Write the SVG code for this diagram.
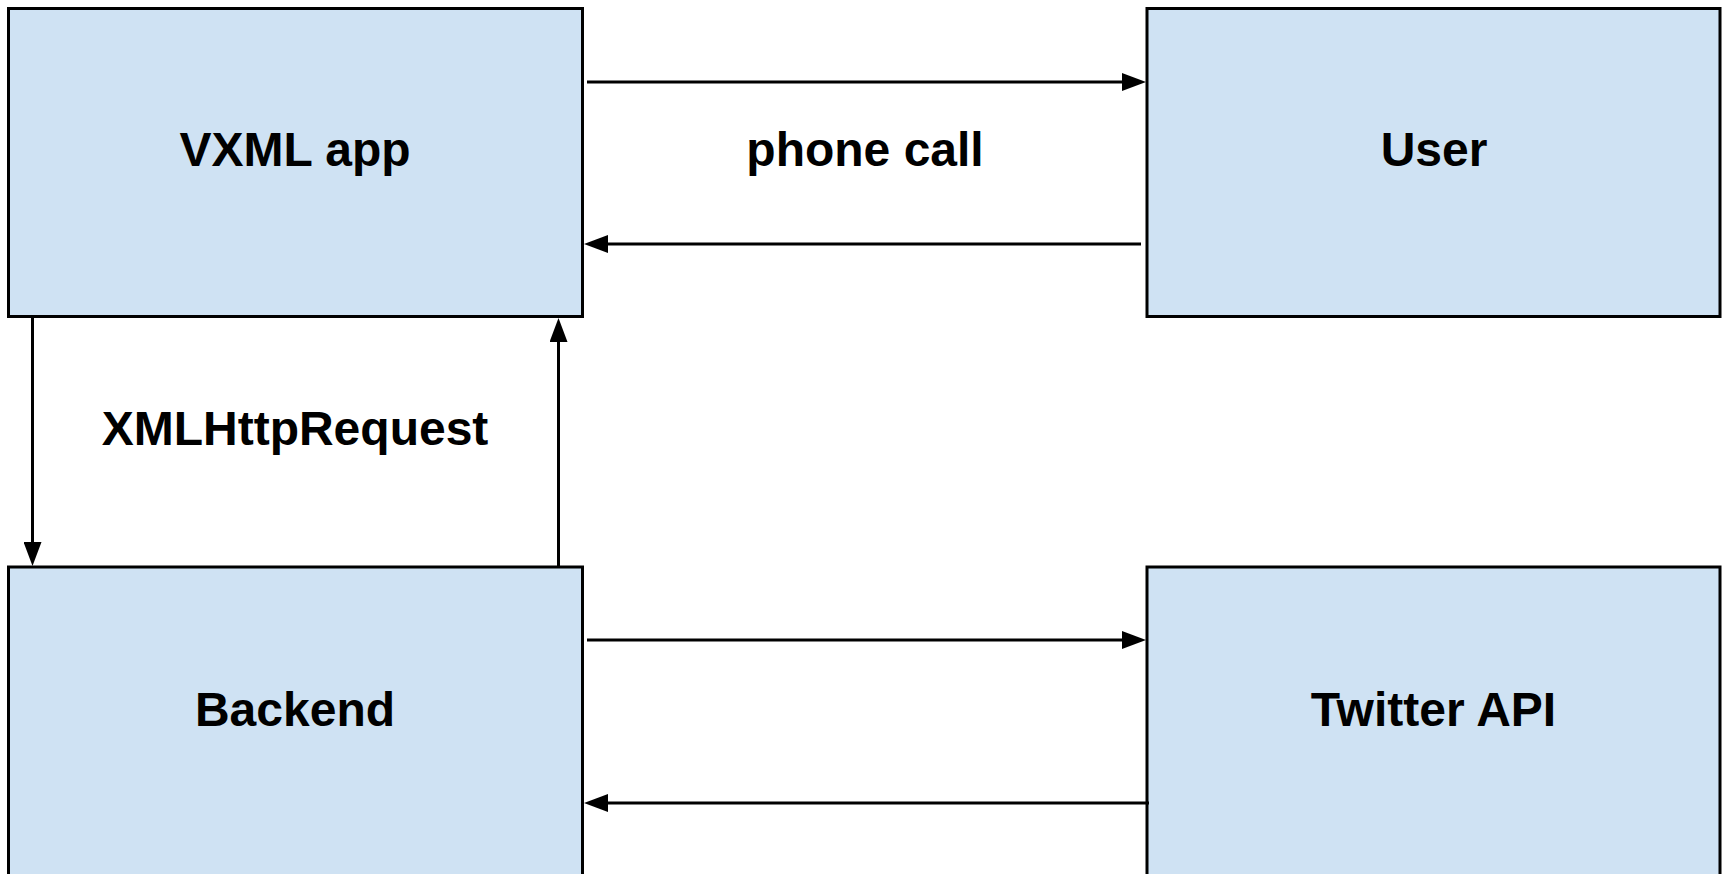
<svg xmlns="http://www.w3.org/2000/svg" width="1729" height="874" viewBox="0 0 1729 874">
  <style>
    .box { fill: #cfe2f3; stroke: #000000; stroke-width: 3; }
    .lbl { font-family: "Liberation Sans", Arial, sans-serif; font-weight: bold; font-size: 48px; fill: #000000; text-anchor: middle; }
    .conn { stroke: #000000; stroke-width: 3; fill: none; marker-end: url(#arrow); }
  </style>
  <defs>
    <marker id="arrow" viewBox="0 0 24 18" markerWidth="24" markerHeight="18" refX="18" refY="9" orient="auto" markerUnits="userSpaceOnUse">
      <path d="M0,0 L24,9 L0,18 z" fill="#000000"/>
    </marker>
  </defs>
  <rect width="1729" height="874" fill="#ffffff"/>
  <g id="vxml-app">
    <rect class="box" x="8.5" y="8.5" width="574" height="308"/>
    <text class="lbl" x="295" y="166">VXML app</text>
  </g>
  <g id="user">
    <rect class="box" x="1147" y="8.5" width="573" height="308"/>
    <text class="lbl" x="1434" y="166">User</text>
  </g>
  <g id="backend">
    <rect class="box" x="8.5" y="567" width="574" height="400"/>
    <text class="lbl" x="295" y="726">Backend</text>
  </g>
  <g id="twitter-api">
    <rect class="box" x="1147" y="567" width="573" height="400"/>
    <text class="lbl" x="1433.5" y="726">Twitter API</text>
  </g>
  <g id="connectors">
    <line class="conn" x1="587" y1="82" x2="1140" y2="82"/>
    <line class="conn" x1="1141" y1="244" x2="590" y2="244"/>
    <line class="conn" x1="587" y1="640" x2="1140" y2="640"/>
    <line class="conn" x1="1149" y1="803" x2="590" y2="803"/>
    <line class="conn" x1="32.5" y1="317" x2="32.5" y2="560"/>
    <line class="conn" x1="558.5" y1="567" x2="558.5" y2="324"/>
    <text class="lbl" x="865" y="166">phone call</text>
    <text class="lbl" x="295" y="445">XMLHttpRequest</text>
  </g>
</svg>
